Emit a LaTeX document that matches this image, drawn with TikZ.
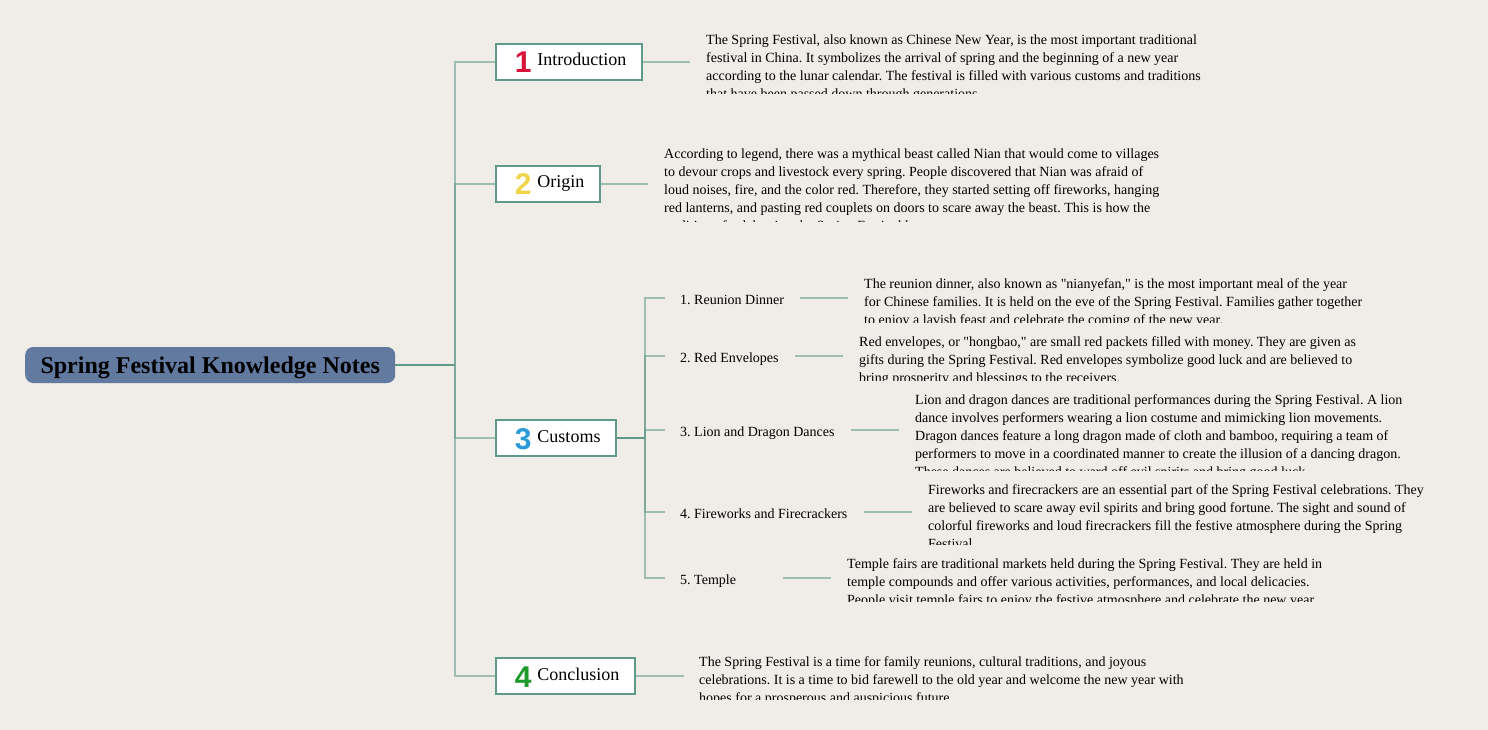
\documentclass[tikz,border=0pt]{standalone}
\usepackage{fontspec}
\setmainfont{Liberation Serif}
\newfontfamily\txtfont{Liberation Serif}
\newfontfamily\numfont{Liberation Sans}
\frenchspacing
\definecolor{bgcol}{HTML}{F0ECE7}
\definecolor{rootblue}{HTML}{6279A0}
\definecolor{boxteal}{HTML}{5E9A8A}
\definecolor{numred}{HTML}{D9143A}
\definecolor{numyellow}{HTML}{F0D44A}
\definecolor{numblue}{HTML}{2A9BD8}
\definecolor{numgreen}{HTML}{1E9A2C}
\newcommand{\brlab}[4]{\makebox[#1pt][l]{\hspace*{19pt}\raisebox{-7pt}{\numfont\bfseries\fontsize{30}{30}\selectfont\textcolor{#2}{#3}}\hspace{6pt}#4}}
\tikzset{
  rootbox/.style={fill=rootblue, rounded corners=8pt, minimum width=370pt, minimum height=36pt,
    anchor=west, inner sep=0pt, text height=17pt, text depth=1pt, font=\txtfont\fontsize{24}{28}\selectfont\bfseries},
  branchbox/.style={draw=boxteal, line width=1.6pt, fill=white, minimum height=36pt,
    anchor=west, inner sep=0pt, text height=13pt, text depth=5pt, font=\txtfont\fontsize{18}{20}\selectfont},
  sublabel/.style={anchor=base west, inner sep=0pt, font=\txtfont\fontsize{14}{16}\selectfont},
  para/.style={anchor=north west, inner sep=0pt, align=left, font=\txtfont\fontsize{14}{18}\selectfont},
  link/.style={draw=boxteal, line width=1.5pt, opacity=0.55},
  rootlink/.style={draw=boxteal, line width=1.5pt},
}
\begin{document}
\begin{tikzpicture}[x=1pt,y=-1pt]
\fill[bgcol] (0,0) rectangle (1488,730);
\useasboundingbox (0,0) rectangle (1488,730);

% root
\node[rootbox] (root) at (25,365) {Spring Festival Knowledge Notes};
\coordinate (hub) at (455,365);

% branches
\node[branchbox] (intro) at (495,62) {\brlab{146}{numred}{1}{Introduction}};
\node[branchbox] (origin) at (495,184) {\brlab{104}{numyellow}{2}{Origin}};
\node[branchbox] (customs) at (495,438) {\brlab{120}{numblue}{3}{Customs}};
\node[branchbox] (concl) at (495,676) {\brlab{139}{numgreen}{4}{Conclusion}};

\draw[rootlink] (root.east) -- (hub);
\draw[link] (hub) |- (intro.west);
\draw[link] (hub) |- (origin.west);
\draw[link] (hub) |- (customs.west);
\draw[link] (hub) |- (concl.west);

% paragraph connectors
\coordinate (pi) at (690,62);
\coordinate (po) at (648,184);
\coordinate (pc) at (684,676);
\draw[link] (intro.east) -- (pi);
\draw[link] (origin.east) -- (po);
\draw[link] (concl.east) -- (pc);

% customs sub-branches
\coordinate (subhub) at (645,438);
\draw[rootlink] (customs.east) -- (subhub);
\coordinate (t1) at (665,298);
\coordinate (t2) at (665,356);
\coordinate (t3) at (665,430);
\coordinate (t4) at (665,512);
\coordinate (t5) at (665,578);
\foreach \t in {t1,t2,t3,t4,t5} \draw[link] (subhub) |- (\t);

\node[sublabel] (s1) at (680,304) {1. Reunion Dinner};
\node[sublabel] (s2) at (680,362) {2. Red Envelopes};
\node[sublabel] (s3) at (680,436) {3. Lion and Dragon Dances};
\node[sublabel] (s4) at (680,518) {4. Fireworks and Firecrackers};
\node[sublabel] (s5) at (680,584) {5. Temple};

\coordinate (a1) at (800,298); \coordinate (b1) at (848,298);
\coordinate (a2) at (795,356); \coordinate (b2) at (843,356);
\coordinate (a3) at (851,430); \coordinate (b3) at (899,430);
\coordinate (a4) at (864,512); \coordinate (b4) at (912,512);
\coordinate (a5) at (783,578); \coordinate (b5) at (831,578);
\foreach \i in {1,...,5} \draw[link] (a\i) -- (b\i);

% paragraphs (clipped)
\begin{scope}
\clip (703,30) rectangle (1260,94);
\node[para] (pIntro) at (706,34) {\rule{0pt}{10pt}The Spring Festival, also known as Chinese New Year, is the most important traditional\\
festival in China. It symbolizes the arrival of spring and the beginning of a new year\\
according to the lunar calendar. The festival is filled with various customs and traditions\\
that have been passed down through generations.};
\end{scope}

\begin{scope}
\clip (661,144) rectangle (1220,222);
\node[para] (pOrigin) at (664,148) {\rule{0pt}{10pt}According to legend, there was a mythical beast called Nian that would come to villages\\
to devour crops and livestock every spring. People discovered that Nian was afraid of\\
loud noises, fire, and the color red. Therefore, they started setting off fireworks, hanging\\
red lanterns, and pasting red couplets on doors to scare away the beast. This is how the\\
tradition of celebrating the Spring Festival began.};
\end{scope}

\begin{scope}
\clip (861,274) rectangle (1420,322);
\node[para] (pReunion) at (864,278) {\rule{0pt}{10pt}The reunion dinner, also known as "nianyefan," is the most important meal of the year\\
for Chinese families. It is held on the eve of the Spring Festival. Families gather together\\
to enjoy a lavish feast and celebrate the coming of the new year.};
\end{scope}

\begin{scope}
\clip (856,332) rectangle (1420,380);
\node[para] (pRed) at (859,336) {\rule{0pt}{10pt}Red envelopes, or "hongbao," are small red packets filled with money. They are given as\\
gifts during the Spring Festival. Red envelopes symbolize good luck and are believed to\\
bring prosperity and blessings to the receivers.};
\end{scope}

\begin{scope}
\clip (912,390) rectangle (1470,470);
\node[para] (pLion) at (915,394) {\rule{0pt}{10pt}Lion and dragon dances are traditional performances during the Spring Festival. A lion\\
dance involves performers wearing a lion costume and mimicking lion movements.\\
Dragon dances feature a long dragon made of cloth and bamboo, requiring a team of\\
performers to move in a coordinated manner to create the illusion of a dancing dragon.\\
These dances are believed to ward off evil spirits and bring good luck.};
\end{scope}

\begin{scope}
\clip (925,480) rectangle (1488,544);
\node[para] (pFire) at (928,484) {\rule{0pt}{10pt}Fireworks and firecrackers are an essential part of the Spring Festival celebrations. They\\
are believed to scare away evil spirits and bring good fortune. The sight and sound of\\
colorful fireworks and loud firecrackers fill the festive atmosphere during the Spring\\
Festival.};
\end{scope}

\begin{scope}
\clip (844,554) rectangle (1400,601);
\node[para] (pTemple) at (847,558) {\rule{0pt}{10pt}Temple fairs are traditional markets held during the Spring Festival. They are held in\\
temple compounds and offer various activities, performances, and local delicacies.\\
People visit temple fairs to enjoy the festive atmosphere and celebrate the new year.};
\end{scope}

\begin{scope}
\clip (696,652) rectangle (1260,699);
\node[para] (pConcl) at (699,656) {\rule{0pt}{10pt}The Spring Festival is a time for family reunions, cultural traditions, and joyous\\
celebrations. It is a time to bid farewell to the old year and welcome the new year with\\
hopes for a prosperous and auspicious future.};
\end{scope}
\end{tikzpicture}
\end{document}
